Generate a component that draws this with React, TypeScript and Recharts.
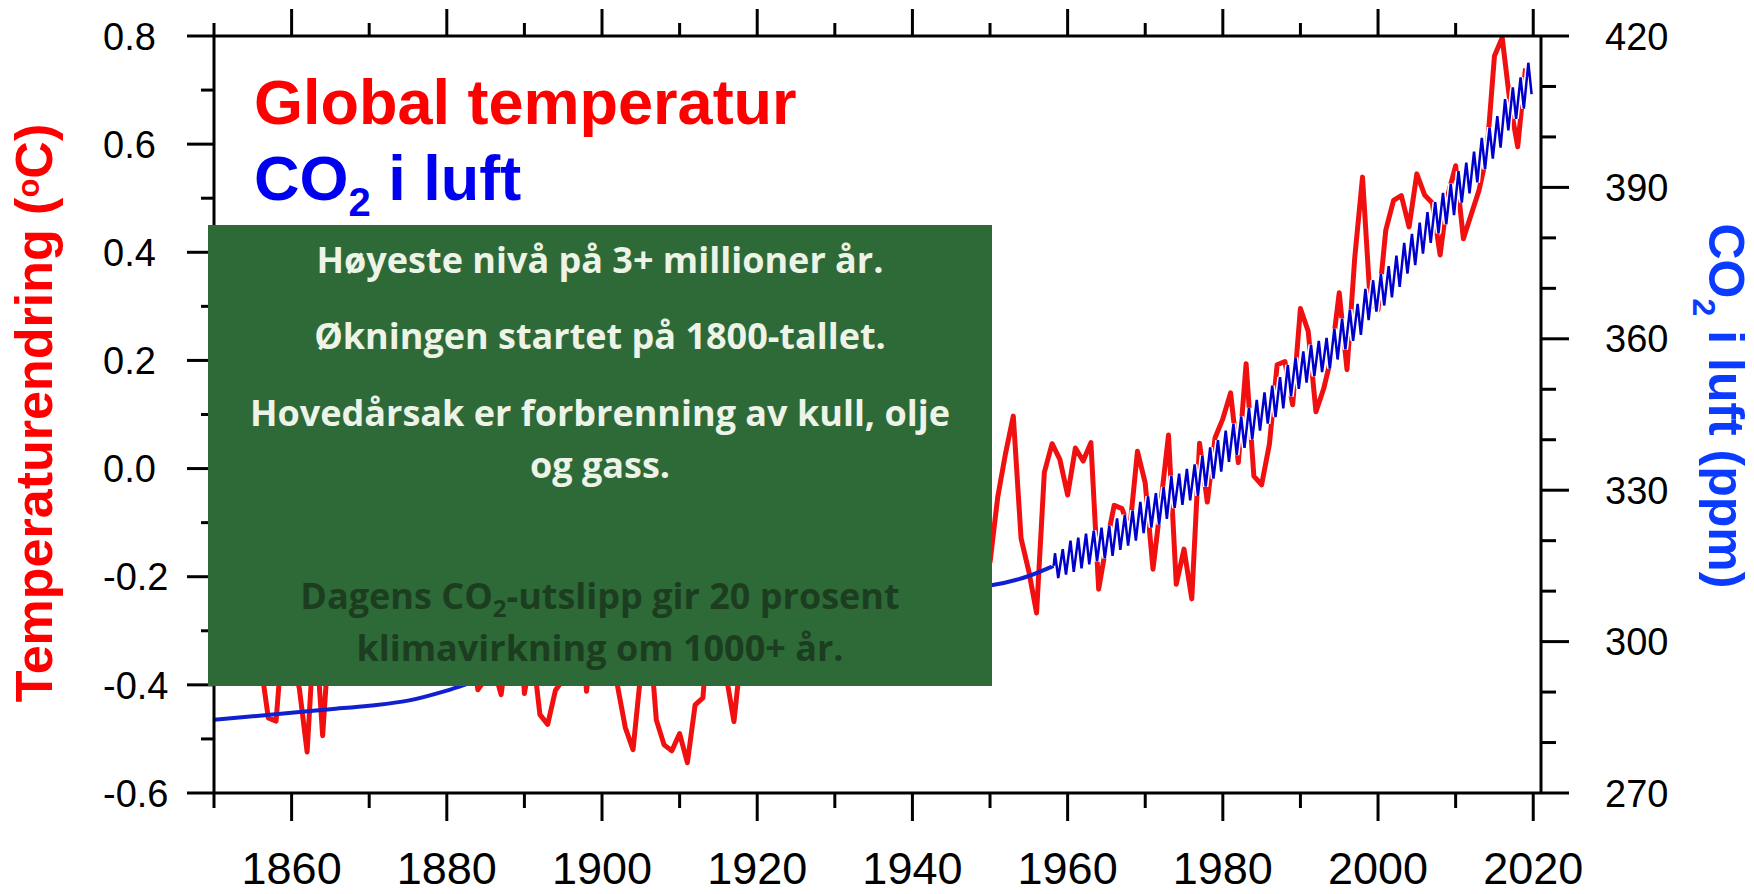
import React from 'react';
import { LineChart, Line, XAxis, YAxis } from 'recharts';

const FONT = '"Liberation Sans", Arial, Helvetica, sans-serif';
const BOX_FONT = '"Open Sans", "Noto Sans", sans-serif';

// ---- tick values ----
const xTicks = [1850, 1860, 1870, 1880, 1890, 1900, 1910, 1920, 1930, 1940, 1950, 1960, 1970, 1980, 1990, 2000, 2010, 2020];
const leftTicks = [-0.6, -0.5, -0.4, -0.3, -0.2, -0.1, 0, 0.1, 0.2, 0.3, 0.4, 0.5, 0.6, 0.7, 0.8];
const rightTicks = [270, 280, 290, 300, 310, 320, 330, 340, 350, 360, 370, 380, 390, 400, 410, 420];

// ---- global temperature anomaly (°C), annual, from 1850 ----
const tempStartYear = 1850;
const tempValues = [
  -0.373, -0.218, -0.228, -0.269, -0.248, -0.272, -0.358, -0.461, -0.467, -0.284,
  -0.343, -0.407, -0.524, -0.278, -0.494, -0.279, -0.251, -0.321, -0.238, -0.262,
  -0.276, -0.335, -0.227, -0.304, -0.368, -0.395, -0.384, -0.075, 0.035, -0.230,
  -0.227, -0.200, -0.213, -0.296, -0.409, -0.389, -0.367, -0.418, -0.307, -0.171,
  -0.416, -0.330, -0.455, -0.473, -0.410, -0.390, -0.186, -0.206, -0.412, -0.289,
  -0.203, -0.259, -0.402, -0.479, -0.520, -0.377, -0.283, -0.465, -0.511, -0.522,
  -0.490, -0.544, -0.437, -0.424, -0.244, -0.141, -0.383, -0.468, -0.333, -0.275,
  -0.247, -0.187, -0.302, -0.276, -0.294, -0.215, -0.108, -0.210, -0.206, -0.350,
  -0.137, -0.087, -0.137, -0.273, -0.131, -0.178, -0.147, -0.026, -0.006, -0.052,
  0.014, 0.020, -0.027, -0.004, 0.144, 0.025, -0.071, -0.038, -0.039, -0.074,
  -0.173, -0.052, 0.028, 0.097, -0.129, -0.190, -0.267, -0.007, 0.046, 0.017,
  -0.049, 0.038, 0.014, 0.048, -0.223, -0.140, -0.068, -0.074, -0.113, 0.032,
  -0.027, -0.186, -0.065, 0.062, -0.214, -0.149, -0.241, 0.047, -0.062, 0.057,
  0.092, 0.140, 0.011, 0.194, -0.014, -0.030, 0.045, 0.192, 0.198, 0.118,
  0.296, 0.254, 0.105, 0.148, 0.208, 0.325, 0.183, 0.390, 0.539, 0.306,
  0.294, 0.441, 0.496, 0.505, 0.447, 0.545, 0.506, 0.491, 0.395, 0.506,
  0.560, 0.425, 0.470, 0.514, 0.579, 0.763, 0.797, 0.677, 0.595, 0.740,
];

// ---- CO2 (ppm), smooth pre-instrumental curve ----
const co2IceYears = [1850, 1855, 1860, 1865, 1870, 1875, 1880, 1885, 1890, 1895, 1900, 1905, 1910, 1915, 1920, 1925, 1930, 1935, 1940, 1945, 1950, 1955, 1958.2];
const co2IceValues = [284.5, 285.2, 285.9, 286.6, 287.3, 288.3, 290.3, 292.8, 294.6, 295.8, 296.9, 298.4, 300.2, 301.7, 303.2, 304.8, 306.4, 308.0, 309.7, 310.5, 311.1, 313.0, 315.0];

// ---- CO2 (ppm), Mauna Loa: yearly seasonal maxima (May) and minima (Oct), from 1958 ----
const mloStartYear = 1958;
const mloMay = [
  317.5, 318.3, 320.0, 320.6, 321.4, 322.0, 322.6, 322.9, 324.4, 325.1,
  326.0, 327.7, 328.8, 329.4, 330.6, 332.8, 333.3, 334.2, 335.1, 336.9,
  338.5, 339.9, 341.8, 343.2, 344.6, 346.3, 347.9, 349.4, 350.7, 352.4,
  354.8, 356.3, 357.5, 358.8, 359.6, 360.2, 362.0, 364.0, 365.8, 366.9,
  369.9, 371.6, 372.8, 374.4, 376.5, 379.0, 380.8, 383.0, 385.1, 387.1,
  388.9, 390.7, 393.2, 394.9, 397.1, 399.8, 401.9, 404.1, 407.5, 409.8,
  411.8, 414.7,
];
const mloOct = [
  312.6, 313.3, 313.8, 314.5, 315.3, 315.9, 316.5, 317.0, 318.2, 319.0,
  320.0, 321.5, 322.6, 323.2, 324.3, 326.5, 327.1, 328.0, 328.9, 330.7,
  332.3, 333.7, 335.6, 337.0, 338.4, 340.0, 341.8, 343.2, 344.5, 346.2,
  348.6, 350.1, 351.3, 352.6, 353.4, 354.1, 355.9, 357.9, 359.6, 360.8,
  363.7, 365.4, 366.6, 368.2, 370.3, 372.9, 374.6, 376.9, 379.0, 380.9,
  382.7, 384.5, 387.0, 388.8, 391.0, 393.6, 395.7, 397.9, 401.3, 403.6,
  405.6, 408.5,
];
const MAY_FRAC = 0.37;
const OCT_FRAC = 0.79;

// ---- tables for the library ----
const tempData = tempValues.map((t, i) => ({ x: tempStartYear + i, t }));
const co2IceData = co2IceYears.map((x, i) => ({ x, c: co2IceValues[i] }));
const mloData: { x: number; c: number }[] = [{ x: co2IceYears[co2IceYears.length - 1], c: co2IceValues[co2IceValues.length - 1] }];
mloMay.forEach((v, i) => {
  mloData.push({ x: mloStartYear + i + MAY_FRAC, c: v });
  mloData.push({ x: mloStartYear + i + OCT_FRAC, c: mloOct[i] });
});

const isMajorX = (v: number) => v % 20 === 0;
const isMajorL = (v: number) => Math.round(v * 10) % 2 === 0;
const isMajorR = (v: number) => (v - 270) % 30 === 0;

function BottomTick(props: any) {
  const { x, y, payload } = props;
  const major = isMajorX(payload.value);
  return (
    <g>
      <line x1={x} x2={x} y1={y} y2={y + (major ? 28 : 15)} stroke="#000" strokeWidth={3} />
      {major && (
        <text x={x} y={y + 91} textAnchor="middle" fontSize={45} fontFamily={FONT} fill="#000">
          {payload.value}
        </text>
      )}
    </g>
  );
}

function TopTick(props: any) {
  const { x, y, payload } = props;
  const major = isMajorX(payload.value);
  return <line x1={x} x2={x} y1={y} y2={y - (major ? 27 : 13)} stroke="#000" strokeWidth={3} />;
}

function LeftTick(props: any) {
  const { x, y, payload } = props;
  const major = isMajorL(payload.value);
  return (
    <g>
      <line x1={x} x2={x - (major ? 27 : 13)} y1={y} y2={y} stroke="#000" strokeWidth={3} />
      {major && (
        <text x={x - 111} y={y} dy="0.36em" textAnchor="start" fontSize={38} fontFamily={FONT} fill="#000">
          {Number(payload.value).toFixed(1)}
        </text>
      )}
    </g>
  );
}

function RightTick(props: any) {
  const { x, y, payload } = props;
  const major = isMajorR(payload.value);
  return (
    <g>
      <line x1={x} x2={x + (major ? 28 : 15)} y1={y} y2={y} stroke="#000" strokeWidth={3} />
      {major && (
        <text x={x + 64} y={y} dy="0.36em" textAnchor="start" fontSize={38} fontFamily={FONT} fill="#000">
          {payload.value}
        </text>
      )}
    </g>
  );
}

const axisLine = { stroke: '#000', strokeWidth: 3 };

export default function App() {
  return (
    <div style={{ position: 'absolute', left: 0, top: 0, width: 1754, height: 894, background: '#fff', overflow: 'hidden' }}>
      <LineChart width={1754} height={894} margin={{ top: 35, right: 212, bottom: 100, left: 213 }}>
        <XAxis
          xAxisId="b"
          dataKey="x"
          type="number"
          domain={[1850, 2021]}
          allowDataOverflow
          ticks={xTicks}
          interval={0}
          height={1}
          tickSize={0}
          tickMargin={0}
          tickLine={false}
          axisLine={axisLine}
          tick={(p: any) => <BottomTick {...p} />}
        />
        <XAxis
          xAxisId="t"
          orientation="top"
          dataKey="x"
          type="number"
          domain={[1850, 2021]}
          allowDataOverflow
          ticks={xTicks}
          interval={0}
          height={1}
          tickSize={0}
          tickMargin={0}
          tickLine={false}
          axisLine={axisLine}
          tick={(p: any) => <TopTick {...p} />}
        />
        <YAxis
          yAxisId="l"
          type="number"
          domain={[-0.6, 0.8]}
          allowDataOverflow
          ticks={leftTicks}
          interval={0}
          width={1}
          tickSize={0}
          tickMargin={0}
          tickLine={false}
          axisLine={axisLine}
          tick={(p: any) => <LeftTick {...p} />}
        />
        <YAxis
          yAxisId="r"
          orientation="right"
          type="number"
          domain={[270, 420]}
          allowDataOverflow
          ticks={rightTicks}
          interval={0}
          width={1}
          tickSize={0}
          tickMargin={0}
          tickLine={false}
          axisLine={axisLine}
          tick={(p: any) => <RightTick {...p} />}
        />
        <Line
          xAxisId="b"
          yAxisId="l"
          data={tempData}
          dataKey="t"
          type="linear"
          stroke="#f01010"
          strokeWidth={5}
          strokeLinejoin="round"
          dot={false}
          activeDot={false}
          isAnimationActive={false}
        />
        <Line
          xAxisId="b"
          yAxisId="r"
          data={co2IceData}
          dataKey="c"
          type="monotone"
          stroke="#1020d0"
          strokeWidth={4}
          dot={false}
          activeDot={false}
          isAnimationActive={false}
        />
        <Line
          xAxisId="b"
          yAxisId="r"
          data={mloData}
          dataKey="c"
          type="linear"
          stroke="#ffffff"
          strokeWidth={5.5}
          dot={false}
          activeDot={false}
          isAnimationActive={false}
        />
        <Line
          xAxisId="b"
          yAxisId="r"
          data={mloData}
          dataKey="c"
          type="linear"
          stroke="#0000cc"
          strokeWidth={2.5}
          dot={false}
          activeDot={false}
          isAnimationActive={false}
        />
      </LineChart>
      <svg
        width={1754}
        height={894}
        style={{ position: 'absolute', left: 0, top: 0, pointerEvents: 'none' }}
      >
        <text x={254} y={124} fontSize={63} fontWeight={700} fill="#ff0000" fontFamily={FONT}>
          Global temperatur
        </text>
        <text x={254} y={200} fontSize={63} fontWeight={700} fill="#0000f0" fontFamily={FONT}>
          CO<tspan fontSize={40} dy={16}>2</tspan>
          <tspan dy={-16}> i luft</tspan>
        </text>
        <text
          x={52}
          y={413}
          transform="rotate(-90 52 413)"
          textAnchor="middle"
          fontSize={52}
          fontWeight={700}
          fill="#ff0000"
          fontFamily={FONT}
        >
          Temperaturendring (<tspan fontSize={31} dy={-13}>o</tspan>
          <tspan dy={13}>C)</tspan>
        </text>
        <text
          x={1709}
          y={406}
          transform="rotate(90 1709 406)"
          textAnchor="middle"
          fontSize={50}
          fontWeight={700}
          fill="#0b3bff"
          fontFamily={FONT}
        >
          CO<tspan fontSize={32} dy={16}>2</tspan>
          <tspan dy={-16}> i luft (ppm)</tspan>
        </text>
        <rect x={208} y={225} width={784} height={461} fill="#2d6a37" />
        <g fontFamily={BOX_FONT} fontWeight={700} fontSize={36} textAnchor="middle" fill="#eef3e8">
          <text x={600} y={273}>Høyeste nivå på 3+ millioner år.</text>
          <text x={600} y={349}>Økningen startet på 1800-tallet.</text>
          <text x={600} y={426}>Hovedårsak er forbrenning av kull, olje</text>
          <text x={600} y={478}>og gass.</text>
        </g>
        <g fontFamily={BOX_FONT} fontWeight={700} fontSize={36} textAnchor="middle" fill="#1c3d20">
          <text x={600} y={609}>
            Dagens CO<tspan fontSize={24} dy={8}>2</tspan>
            <tspan dy={-8}>-utslipp gir 20 prosent</tspan>
          </text>
          <text x={600} y={661}>klimavirkning om 1000+ år.</text>
        </g>
      </svg>
    </div>
  );
}
